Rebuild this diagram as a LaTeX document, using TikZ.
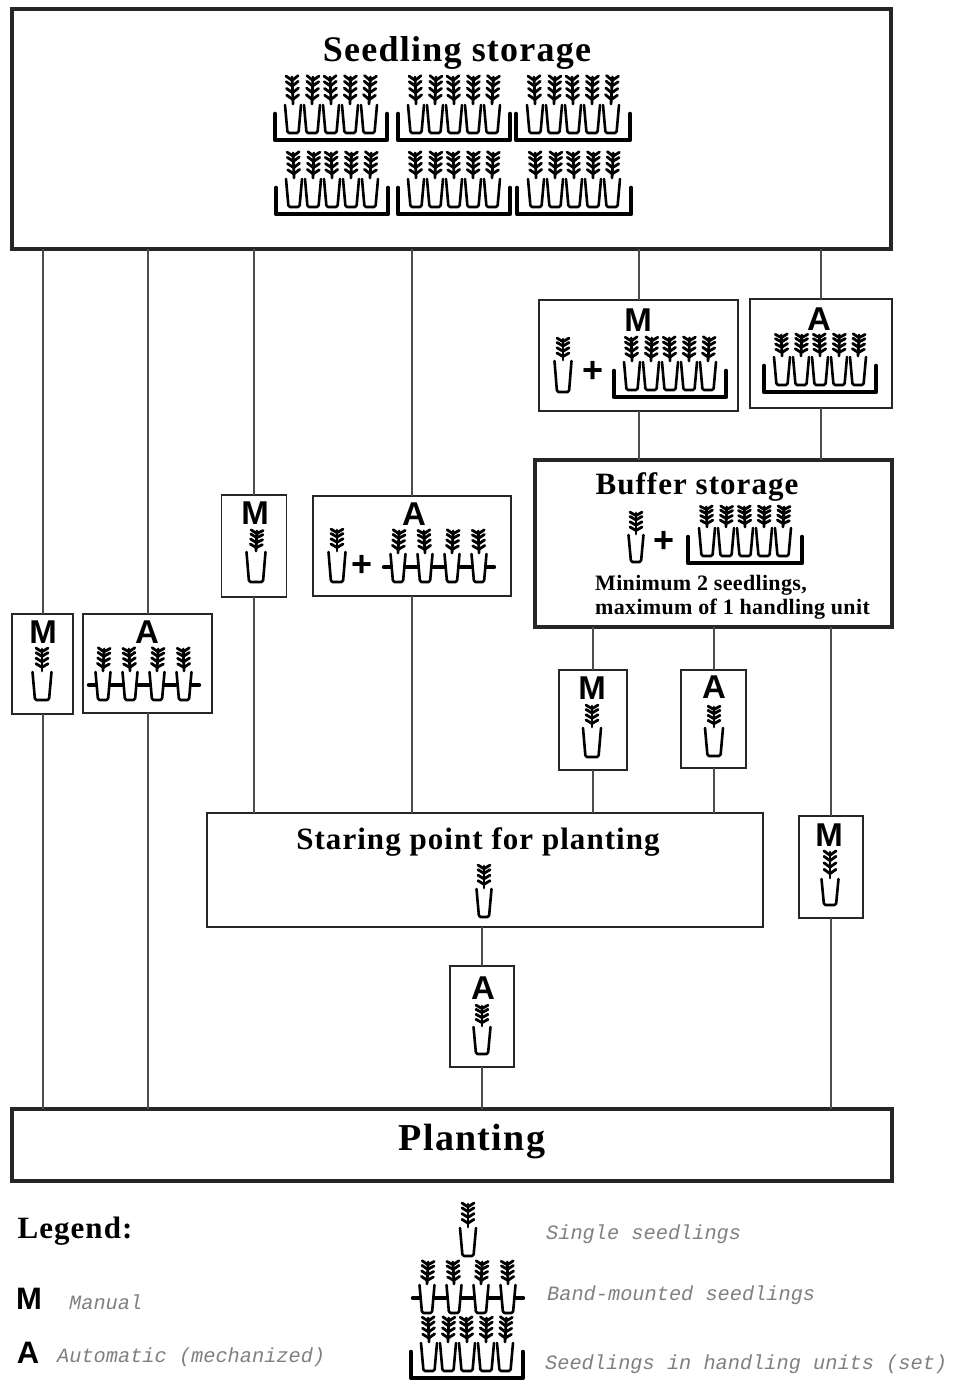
\documentclass[tikz,border=0pt]{standalone}
\usepackage{fontspec}
\newfontfamily\serifb{Liberation Serif}[BoldFont={Liberation Serif Bold},LetterSpace=3.4]
\newfontfamily\serifn{Liberation Serif}[BoldFont={Liberation Serif Bold},LetterSpace=1.5]
\newfontfamily\sansb{Liberation Sans}
\newfontfamily\monoi{Liberation Mono}
\tikzset{
  box/.style={draw=black!85,fill=white,line width=1.8pt,inner sep=0,outer sep=0},
  heavybox/.style={box,line width=3.4pt},
  conn/.style={draw=black!70,line width=2pt},
  letter/.style={font=\sansb\bfseries\fontsize{33}{33}\selectfont,inner sep=0},
  legletter/.style={font=\sansb\bfseries\fontsize{31}{31}\selectfont,inner sep=0},
  plussign/.style={font=\sansb\bfseries\fontsize{36}{36}\selectfont,inner sep=0},
  titlelg/.style={font=\serifb\bfseries\fontsize{36}{38}\selectfont,inner sep=0},
  titlexl/.style={font=\serifb\bfseries\fontsize{38}{40}\selectfont,inner sep=0},
  titlesm/.style={font=\serifb\bfseries\fontsize{31}{36}\selectfont,inner sep=0},
  notetext/.style={font=\serifn\bfseries\fontsize{22}{24}\selectfont,inner sep=0,anchor=west},
  legtext/.style={font=\monoi\itshape\fontsize{20.3}{24}\selectfont,text=black!50,inner sep=0,anchor=west},
  potline/.style={draw=black,fill=white,line width=2.6pt,line join=round,line cap=round,rounded corners=1.5pt},
  leafline/.style={draw=black,line width=2.8pt,line cap=round},
  bandline/.style={draw=black,line width=4.4pt,line cap=round},
  traywall/.style={draw=black,line width=4.6pt,line cap=round,line join=round}
}
\newcommand\chevron[1]{\draw[leafline] (-6,#1-4) -- (0,#1) -- (6,#1-4);}
% x, bottom y, pot top width, pot height, leaf height, tilt
\newcommand\plant[6]{%
  \begin{scope}[shift={(#1,#2)}]
    \draw[potline] (-#3/2,-#4) -- (-#3/2+2.5,0) -- (#3/2-2.5,0) -- (#3/2,-#4);
    \begin{scope}[shift={(0,-#4-1)},rotate=#6,yscale=#5/24]
      \draw[leafline] (0,0) -- (0,-24);
      \chevron{-4}\chevron{-10}\chevron{-16}\chevron{-21}
    \end{scope}
  \end{scope}}
% centre x, bottom y, half width, leaf height
\newcommand\traypic[4]{%
  \begin{scope}[shift={(#1,#2)}]
    \plant{-38}{-7}{16}{28}{#4}{2}
    \plant{-19}{-7}{16}{28}{#4}{-2}
    \plant{0}{-7}{16}{28}{#4}{2}
    \plant{19}{-7}{16}{28}{#4}{-1}
    \plant{38}{-7}{16}{28}{#4}{-3}
    \draw[traywall] (-#3,-26) -- (-#3,0) -- (#3,0) -- (#3,-26);
  \end{scope}}
% centre x, bottom y
\newcommand\bandpic[2]{%
  \begin{scope}[shift={(#1,#2)}]
    \draw[bandline] (-55,-15) -- (55,-15);
    \plant{-41}{0}{15}{28}{22}{-3}
    \plant{-14}{0}{15}{28}{22}{3}
    \plant{13}{0}{15}{28}{22}{-3}
    \plant{40}{0}{15}{28}{22}{2}
  \end{scope}}
\begin{document}
\begin{tikzpicture}[x=1pt,y=-1pt]
\useasboundingbox[fill=white] (0,0) rectangle (955,1381);
% boxes
\node[heavybox,minimum width=879,minimum height=240] (storage) at (451.5,129) {};
\node[box,minimum width=61,minimum height=100] (m1) at (42.5,664) {};
\node[box,minimum width=129,minimum height=99] (a1) at (147.5,663.5) {};
\node[box,minimum width=65,minimum height=102] (m2) at (254,546) {};
\node[box,minimum width=198,minimum height=100] (a2) at (412,546) {};
\node[box,minimum width=199,minimum height=111] (m3) at (638.5,355.5) {};
\node[box,minimum width=142,minimum height=109] (a3) at (821,353.5) {};
\node[heavybox,minimum width=357,minimum height=167] (buffer) at (713.5,543.5) {};
\node[box,minimum width=68,minimum height=100] (m4) at (593,720) {};
\node[box,minimum width=65,minimum height=98] (a4) at (713.5,719) {};
\node[box,minimum width=64,minimum height=102] (m5) at (831,867) {};
\node[box,minimum width=556,minimum height=114] (start) at (485,870) {};
\node[box,minimum width=64,minimum height=101] (a5) at (482,1016.5) {};
\node[heavybox,minimum width=880,minimum height=72] (planting) at (452,1145) {};
% connectors
\draw[conn] (storage.south -| m1.north) -- (m1.north);
\draw[conn] (storage.south -| a1.north) -- (a1.north);
\draw[conn] (storage.south -| m2.north) -- (m2.north);
\draw[conn] (storage.south -| a2.north) -- (a2.north);
\draw[conn] (storage.south -| m3.north) -- (m3.north);
\draw[conn] (storage.south -| a3.north) -- (a3.north);
\draw[conn] (m1.south) -- (m1.south |- planting.north);
\draw[conn] (a1.south) -- (a1.south |- planting.north);
\draw[conn] (m2.south) -- (m2.south |- start.north);
\draw[conn] (a2.south) -- (a2.south |- start.north);
\draw[conn] (m3.south) -- (m3.south |- buffer.north);
\draw[conn] (a3.south) -- (a3.south |- buffer.north);
\draw[conn] (buffer.south -| m4.north) -- (m4.north);
\draw[conn] (buffer.south -| a4.north) -- (a4.north);
\draw[conn] (buffer.south -| m5.north) -- (m5.north);
\draw[conn] (m4.south) -- (m4.south |- start.north);
\draw[conn] (a4.south) -- (a4.south |- start.north);
\draw[conn] (m5.south) -- (m5.south |- planting.north);
\draw[conn] (start.south -| a5.north) -- (a5.north);
\draw[conn] (a5.south) -- (a5.south |- planting.north);
% titles
\node[titlelg] (tstorage) at (457,53) {Seedling storage};
\node[titlesm] (tbuffer) at (697,487) {Buffer storage};
\node[titlesm] (tstart) at (478,842) {Staring point for planting};
\node[titlexl] (tplanting) at (472,1141) {Planting};
\node[notetext] (n1) at (595,585) {Minimum 2 seedlings,};
\node[notetext] (n2) at (595,609) {maximum of 1 handling unit};
% letters
\node[letter] (lm1) at (43,632) {M};
\node[letter] (la1) at (147,632) {A};
\node[letter] (lm2) at (255,513) {M};
\node[letter] (la2) at (414,514) {A};
\node[letter] (lm3) at (638,320) {M};
\node[letter] (la3) at (819,319) {A};
\node[letter] (lm4) at (592,688) {M};
\node[letter] (la4) at (714,687) {A};
\node[letter] (lm5) at (829,835) {M};
\node[letter] (la5) at (483,988) {A};
% seedling storage trays
\traypic{331}{140}{56}{27}
\traypic{454}{140}{56}{27}
\traypic{573}{140}{57}{27}
\traypic{332}{214}{56}{25}
\traypic{454}{214}{56}{25}
\traypic{574}{214}{57}{25}
% single seedlings, plus signs, units
\plant{42}{700}{19}{28}{22}{0}
\bandpic{144}{700}
\plant{256}{582}{19}{30}{20}{-3}
\plant{337}{582}{17}{30}{21}{0}
\node[plussign] (p2) at (362,566) {+};
\bandpic{439}{582}
\plant{563}{392}{17}{31}{21}{0}
\node[plussign] (p3) at (593,372) {+};
\traypic{670}{397}{56}{23}
\traypic{820}{392}{56}{21}
\plant{636}{562}{15}{27}{21}{0}
\node[plussign] (p4) at (664,542) {+};
\traypic{745}{563}{57}{20}
\plant{592}{757}{18}{29}{21}{0}
\plant{714}{756}{18}{28}{20}{0}
\plant{830}{905}{17}{26}{26}{0}
\plant{484}{917}{15}{28}{22}{0}
\plant{482}{1054}{17}{27}{20}{0}
% legend
\node[titlesm] (lg) at (75,1231) {Legend:};
\node[legletter] (lgm) at (29,1299) {M};
\node[legletter] (lga) at (28,1353) {A};
\node[legtext] (tm) at (69,1302) {Manual};
\node[legtext] (ta) at (57,1357) {Automatic (mechanized)};
\plant{468}{1256}{16}{28}{23}{0}
\bandpic{468}{1313}
\traypic{467}{1378}{56}{24}
\node[legtext] (ts) at (546,1234) {Single seedlings};
\node[legtext] (tb) at (547,1295) {Band-mounted seedlings};
\node[legtext] (tu) at (545,1364) {Seedlings in handling units (set)};
\end{tikzpicture}
\end{document}
